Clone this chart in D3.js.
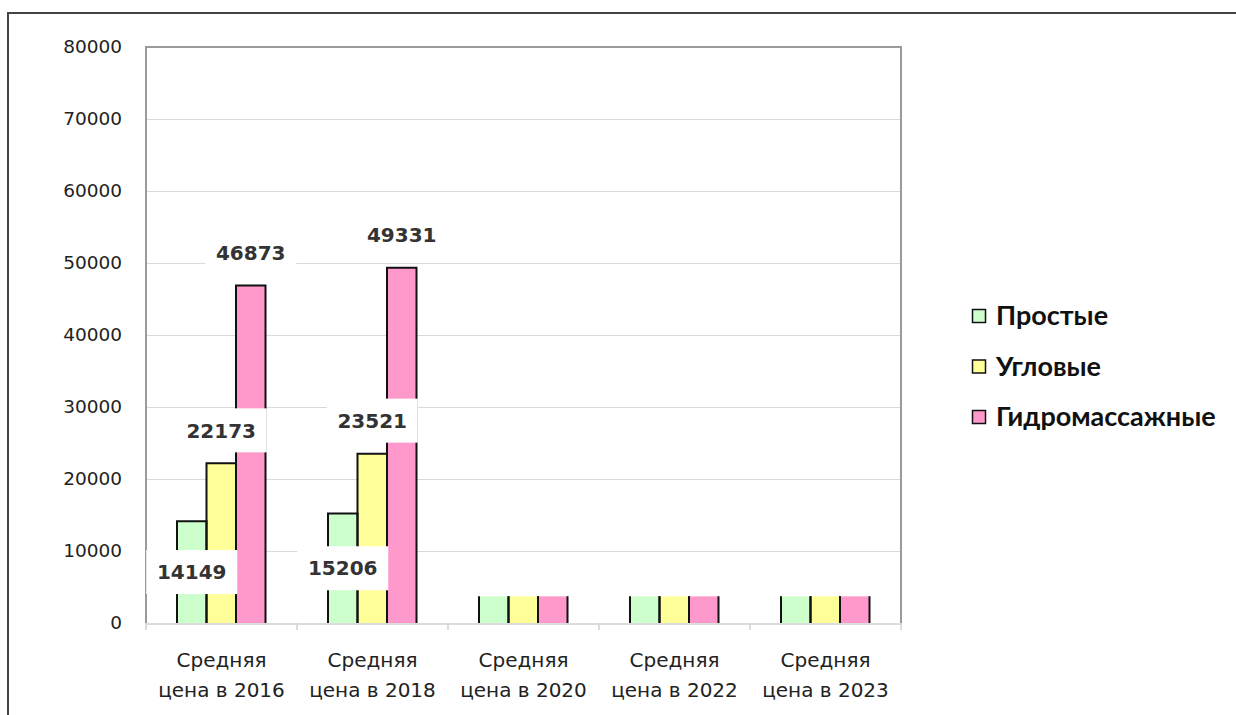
<!DOCTYPE html>
<html>
<head>
<meta charset="utf-8">
<script src="https://cdn.jsdelivr.net/npm/d3@7"></script>
<style>
  html, body { margin: 0; padding: 0; background: #fff; }
  svg { display: block; }
</style>
</head>
<body>
<div id="chart"></div>
<script>
// chart data
var categories = ["Средняя цена в 2016", "Средняя цена в 2018", "Средняя цена в 2020", "Средняя цена в 2022", "Средняя цена в 2023"];
var seriesNames = ["Простые", "Угловые", "Гидромассажные"];
var prostye = [14149, 15206, 3700, 3700, 3700];
var uglovye = [22173, 23521, 3700, 3700, 3700];
var gidro = [46873, 49331, 3700, 3700, 3700];
var labelled = [true, true, false, false, false];
var yTicks = [0, 10000, 20000, 30000, 40000, 50000, 60000, 70000, 80000];

var colors = ["#ccffcc", "#ffff99", "#ff99cc"];

var width = 1236, height = 715;
var plotLeft = 146, plotRight = 901, plotTop = 47, plotBottom = 623;

window.addEventListener("DOMContentLoaded", () => {

var svg = d3.select("#chart").append("svg")
    .attr("width", width)
    .attr("height", height);

// outer frame of the chart object
svg.append("rect")
    .attr("x", 8).attr("y", 13)
    .attr("width", width + 20).attr("height", height + 20)
    .attr("fill", "#fff")
    .attr("stroke", "#444").attr("stroke-width", 2);

/*scales*/
var yScale = d3.scaleLinear().domain([0, 80000]).range([plotBottom, plotTop]);
var xScale = d3.scaleBand().domain(categories).range([plotLeft, plotRight]).padding(0);
var step = xScale.bandwidth();
var xInner = d3.scaleBand().domain(seriesNames)
    .range([31, step - 31.5]).padding(0);

/*grid lines*/
svg.append("g")
    .selectAll("line")
    .data(yTicks.slice(1))
    .enter().append("line")
    .attr("x1", plotLeft).attr("x2", plotRight)
    .attr("y1", d => Math.round(yScale(d)) + 0.5)
    .attr("y2", d => Math.round(yScale(d)) + 0.5)
    .attr("stroke", "#d9d9d9").attr("stroke-width", 1);

/*y axis labels*/
var yAxis = d3.axisLeft(yScale).tickValues(yTicks).tickSize(0).tickPadding(0).tickFormat(d3.format("d"));
var gy = svg.append("g")
    .attr("transform", "translate(122,0)")
    .call(yAxis);
gy.select(".domain").remove();
gy.selectAll("text")
    .attr("font-family", "'DejaVu Sans', sans-serif")
    .attr("font-size", 18.5)
    .attr("fill", "#222");

/*x axis: line, ticks, two-line labels*/
var xAxis = d3.axisBottom(xScale).tickSize(0).tickFormat("");
var gx = svg.append("g")
    .attr("transform", "translate(0," + (plotBottom + 0.5) + ")")
    .call(xAxis);
gx.select(".domain").attr("stroke", "#d0d0d0").attr("stroke-width", 1.5);
gx.selectAll(".tick").remove();

var boundaries = categories.map(c => xScale(c)).concat([plotRight]);
svg.append("g")
    .selectAll("line")
    .data(boundaries)
    .enter().append("line")
    .attr("x1", d => d).attr("x2", d => d)
    .attr("y1", plotBottom).attr("y2", plotBottom + 7)
    .attr("stroke", "#d0d0d0").attr("stroke-width", 1.5);

var catLabels = svg.append("g")
    .selectAll("text")
    .data(categories)
    .enter().append("text")
    .attr("text-anchor", "middle")
    .attr("font-family", "'DejaVu Sans', sans-serif")
    .attr("font-size", 20)
    .attr("fill", "#222");
catLabels.append("tspan")
    .attr("x", d => xScale(d) + step / 2)
    .attr("y", 667)
    .text(d => d.split(" ц")[0]);
catLabels.append("tspan")
    .attr("x", d => xScale(d) + step / 2)
    .attr("y", 697)
    .text(d => "ц" + d.split(" ц")[1]);

/*bars*/
var seriesValues = [prostye, uglovye, gidro];
var barData = [];
categories.forEach((c, i) => {
    seriesValues.forEach((vals, s) => {
        barData.push({ cat: c, ci: i, s: s, name: seriesNames[s], value: vals[i] });
    });
});

var bars = svg.append("g");
bars.selectAll("rect")
    .data(barData)
    .enter().append("rect")
    .attr("x", d => xScale(d.cat) + xInner(d.name))
    .attr("y", d => yScale(d.value))
    .attr("width", xInner.bandwidth())
    .attr("height", d => yScale(0) - yScale(d.value))
    .attr("fill", d => colors[d.s]);

// outline: sides always, top only where the value is labelled
bars.selectAll("path")
    .data(barData)
    .enter().append("path")
    .attr("d", d => {
        var x0 = xScale(d.cat) + xInner(d.name), x1 = x0 + xInner.bandwidth();
        var y0 = yScale(0), y1 = yScale(d.value);
        if (labelled[d.ci]) return "M" + x0 + "," + y0 + "V" + y1 + "H" + x1 + "V" + y0;
        return "M" + x0 + "," + y0 + "V" + y1 + "M" + x1 + "," + y0 + "V" + y1;
    })
    .attr("fill", "none")
    .attr("stroke", "#111").attr("stroke-width", 2);

/*plot area border (left, top, right)*/
svg.append("path")
    .attr("d", "M" + plotLeft + "," + plotBottom + "V" + plotTop + "H" + plotRight + "V" + plotBottom)
    .attr("fill", "none")
    .attr("stroke", "#9a9a9a").attr("stroke-width", 2);

/*data labels with white boxes*/
var labelData = barData.filter(d => labelled[d.ci]).map(d => {
    var cx = xScale(d.cat) + xInner(d.name) + xInner.bandwidth() / 2;
    var cy = d.s === 0 ? (yScale(0) + yScale(d.value)) / 2 : yScale(d.value) - 33;
    return { cx: cx, cy: cy, value: d.value };
});
var lg = svg.append("g");
lg.selectAll("rect")
    .data(labelData)
    .enter().append("rect")
    .attr("x", d => d.cx - 45.5)
    .attr("y", d => d.cy - 22)
    .attr("width", 91).attr("height", 44)
    .attr("fill", "#fff");
lg.selectAll("text")
    .data(labelData)
    .enter().append("text")
    .attr("x", d => d.cx)
    .attr("y", d => d.cy)
    .attr("dy", "0.36em")
    .attr("text-anchor", "middle")
    .attr("font-family", "'DejaVu Sans', sans-serif")
    .attr("font-weight", "bold")
    .attr("font-size", 20)
    .attr("fill", "#333")
    .text(d => d.value);

/*legend*/
var legend = svg.append("g")
    .selectAll("g")
    .data(seriesNames)
    .enter().append("g")
    .attr("transform", (d, i) => "translate(972," + (316 + i * 50.5) + ")");
legend.append("rect")
    .attr("x", 0.5).attr("y", -6.5)
    .attr("width", 13).attr("height", 13)
    .attr("fill", (d, i) => colors[i])
    .attr("stroke", "#111").attr("stroke-width", 1.5);
legend.append("text")
    .attr("x", 24)
    .attr("dy", "0.35em")
    .attr("font-family", "Lato, 'Open Sans', sans-serif")
    .attr("font-weight", "bold")
    .attr("font-size", 27)
    .attr("fill", "#111")
    .text(d => d);

});
</script>
</body>
</html>
